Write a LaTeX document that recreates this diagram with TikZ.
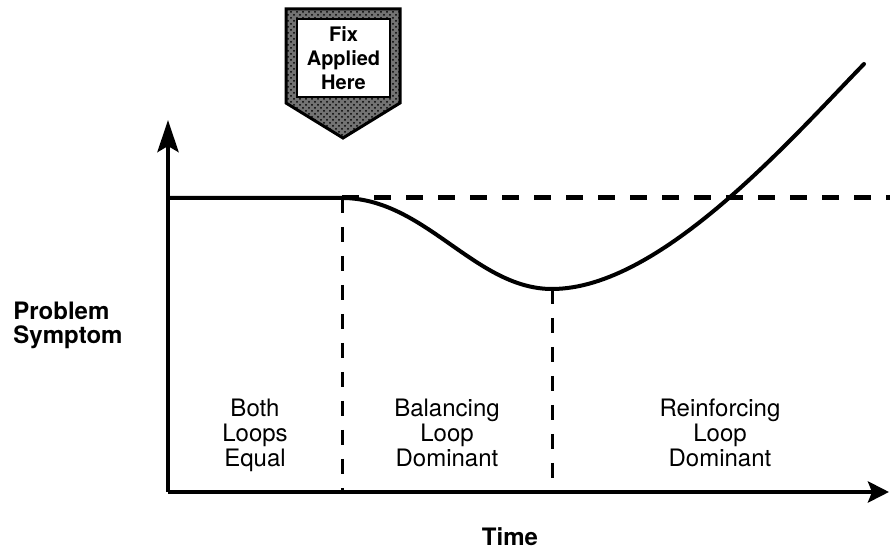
\documentclass[tikz,border=0pt]{standalone}
\usepackage{fontspec}
\setmainfont{TeX Gyre Heros}
\usetikzlibrary{arrows.meta,patterns}

\begin{document}
\begin{tikzpicture}[x=0.5pt, y=-0.5pt,
    every node/.style={inner sep=0pt},
    axis/.style={line width=2.25pt},
    curve/.style={line width=2pt, line cap=round},
    hdash/.style={line width=2.5pt, dash pattern=on 8.5pt off 7.5pt},
    vdash/.style={line width=1.5pt, dash pattern=on 7.5pt off 7pt},
    region/.style={anchor=north, align=center, font=\fontsize{12}{12.5}\selectfont},
    axlbl/.style={font=\fontsize{12}{12}\selectfont\bfseries},
    fixbox/.style={draw, fill=white, line width=0.75pt, minimum width=46.5pt,
                   minimum height=39pt, align=center,
                   font=\fontsize{10}{12}\selectfont\bfseries},
  ]
  \useasboundingbox (0,0) rectangle (890,549);
  \coordinate (o) at (168,492);
  \coordinate (ytip) at (168,120);
  \coordinate (xtip) at (889,492);
  \coordinate (lvl) at (168,198);
  \coordinate (fix) at (342,198);
  \coordinate (low) at (552,289);
  \coordinate (up) at (864,64);
  \coordinate (lvlend) at (890,198);
  % sign
  \fill[black!55] (286,9) -- (400,9) -- (400,103) -- (343,138) -- (286,103) -- cycle;
  \fill[pattern=crosshatch dots, pattern color=black]
    (286,9) -- (400,9) -- (400,103) -- (343,138) -- (286,103) -- cycle;
  \draw[line width=1.5pt, line join=miter]
    (286,9) -- (400,9) -- (400,103) -- (343,138) -- (286,103) -- cycle;
  \node[fixbox] (sign) at (343.5,58) {Fix\\Applied\\Here};
  % axes
  \draw[axis, -{Stealth[length=16pt, width=10.5pt, inset=3pt]}] (o) -- (ytip);
  \draw[axis, -{Stealth[length=10.5pt, width=10.5pt, inset=2pt]}] (o) -- (xtip);
  % reference level and symptom
  \draw[hdash] (fix) -- (lvlend);
  \draw[vdash] (fix) -- (fix |- o);
  \draw[vdash] (low) -- (low |- o);
  \draw[curve] (lvl) -- (fix) .. controls (425,198) and (475,289) .. (low)
    .. controls (660,289) and (790,140) .. (up);
  % labels
  \node[axlbl, anchor=north west, align=left] (sym) at (13,302) {Problem\\Symptom};
  \node[axlbl, anchor=north] (time) at (510,527) {Time};
  \node[region] (both) at (255,399) {Both\\Loops\\Equal};
  \node[region] (bal) at (447,399) {Balancing\\Loop\\Dominant};
  \node[region] (rein) at (720,399) {Reinforcing\\Loop\\Dominant};
\end{tikzpicture}
\end{document}
